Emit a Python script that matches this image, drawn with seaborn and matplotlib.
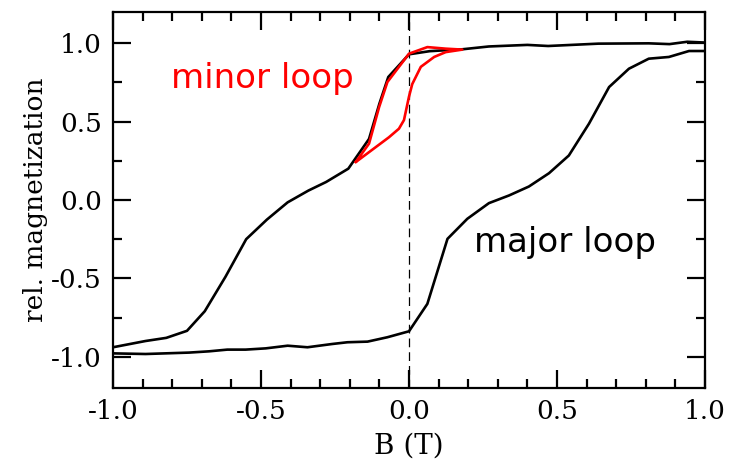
import numpy as np
import pandas as pd
import matplotlib
matplotlib.use("Agg")
import matplotlib.pyplot as plt
import seaborn as sns

# ---- data ----
# descending major branch (B from +1 to -1)
desc_B = [1.0, 0.94, 0.88, 0.81, 0.64, 0.47, 0.40, 0.27, 0.18, 0.07, 0.0,
          -0.07, -0.10, -0.135, -0.205, -0.28, -0.34, -0.41, -0.48, -0.55,
          -0.62, -0.69, -0.75, -0.82, -0.89, -1.0]
desc_M = [1.005, 1.01, 0.995, 1.0, 0.998, 0.983, 0.99, 0.98, 0.962, 0.95, 0.93,
          0.785, 0.615, 0.39, 0.20, 0.115, 0.06, -0.015, -0.125, -0.25,
          -0.49, -0.71, -0.835, -0.88, -0.90, -0.94]
# ascending major branch (B from -1 to +1)
asc_B = [-1.0, -0.89, -0.743, -0.676, -0.614, -0.552, -0.484, -0.41, -0.343,
         -0.259, -0.208, -0.14, -0.073, 0.0, 0.062, 0.13, 0.197, 0.27, 0.338,
         0.405, 0.473, 0.54, 0.608, 0.676, 0.743, 0.81, 0.878, 0.946, 1.0]
asc_M = [-0.979, -0.983, -0.974, -0.966, -0.955, -0.955, -0.947, -0.93, -0.94,
         -0.919, -0.908, -0.904, -0.876, -0.838, -0.663, -0.248, -0.12, -0.02,
         0.029, 0.086, 0.171, 0.284, 0.487, 0.721, 0.838, 0.902, 0.913, 0.951,
         0.951]
# minor loop
minor_B = [-0.18, -0.068, -0.034, -0.017, 0.0, 0.011, 0.04, 0.085, 0.124, 0.18,
           0.124, 0.062, 0.0, -0.073, -0.101, -0.135, -0.18]
minor_M = [0.242, 0.40, 0.455, 0.51, 0.66, 0.74, 0.85, 0.913, 0.944, 0.96,
           0.966, 0.976, 0.934, 0.753, 0.593, 0.36, 0.242]

xtick_vals = [-1.0, -0.5, 0.0, 0.5, 1.0]
xtick_labels = ["-1.0", "-0.5", "0.0", "0.5", "1.0"]
ytick_vals = [-1.0, -0.5, 0.0, 0.5, 1.0]
ytick_labels = ["-1.0", "-0.5", "0.0", "0.5", "1.0"]

# ---- styling ----
sns.set_theme(style="ticks")
plt.rcParams["font.family"] = ["DejaVu Serif"]
plt.rcParams["text.color"] = "black"
plt.rcParams["axes.labelcolor"] = "black"
plt.rcParams["xtick.color"] = "black"
plt.rcParams["ytick.color"] = "black"

fig = plt.figure(figsize=(7.32, 4.74), dpi=100)
ax = fig.add_axes([113 / 732, 86 / 474, 592 / 732, 376 / 474])

desc = pd.DataFrame({"B": desc_B, "M": desc_M})
asc = pd.DataFrame({"B": asc_B, "M": asc_M})
minor = pd.DataFrame({"B": minor_B, "M": minor_M})

sns.lineplot(data=desc, x="B", y="M", sort=False, estimator=None,
             color="black", linewidth=1.9, ax=ax)
sns.lineplot(data=asc, x="B", y="M", sort=False, estimator=None,
             color="black", linewidth=1.9, ax=ax)
sns.lineplot(data=minor, x="B", y="M", sort=False, estimator=None,
             color="#ff0000", linewidth=1.9, ax=ax)

ax.axvline(0.0, color="black", linewidth=0.9, linestyle=(0, (7, 4)), zorder=1)

ax.set_xlim(-1.0, 1.0)
ax.set_ylim(-1.2, 1.2)
ax.set_xticks(xtick_vals)
ax.set_xticklabels(xtick_labels)
ax.set_yticks(ytick_vals)
ax.set_yticklabels(ytick_labels)
ax.xaxis.set_minor_locator(matplotlib.ticker.MultipleLocator(0.1))
ax.yaxis.set_minor_locator(matplotlib.ticker.MultipleLocator(0.25))

ax.tick_params(which="both", direction="in", top=True, right=True,
               width=1.6, colors="black", labelcolor="black")
ax.tick_params(which="major", length=13, labelsize=19)
ax.tick_params(axis="x", which="major", pad=8)
ax.tick_params(axis="y", which="major", pad=8)
ax.tick_params(which="minor", length=6.5)
for s in ax.spines.values():
    s.set_linewidth(1.6)
    s.set_color("black")

ax.set_xlabel("B (T)", fontsize=20, labelpad=6, color="black")
ax.set_ylabel("rel. magnetization", fontsize=19, labelpad=2, color="black")

ax.text(-0.804, 0.712, "minor loop", color="#ff0000", fontsize=24.5,
        family="DejaVu Sans", va="baseline", ha="left")
ax.text(0.22, -0.334, "major loop", color="black", fontsize=24.5,
        family="DejaVu Sans", va="baseline", ha="left")

fig.savefig("out.png", dpi=100)
